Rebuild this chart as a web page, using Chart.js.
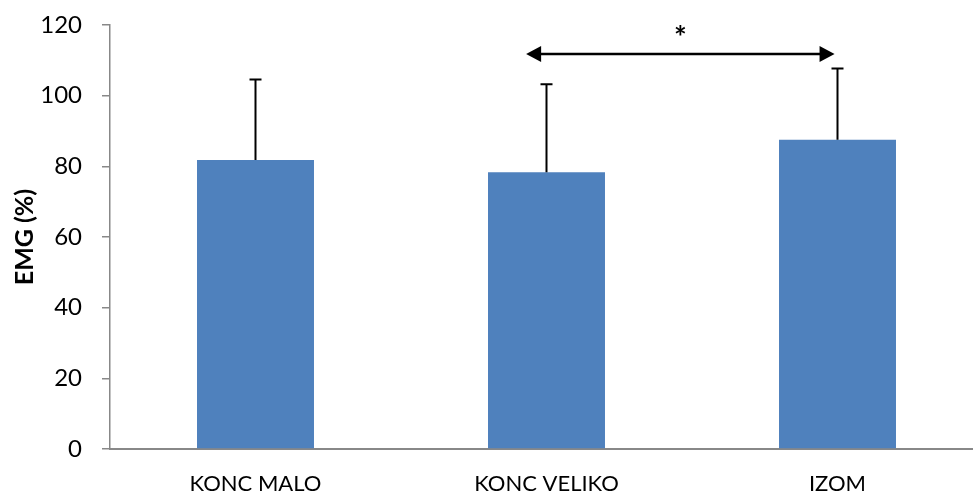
<!DOCTYPE html>
<html>
<head>
<meta charset="utf-8">
<script src="https://cdn.jsdelivr.net/npm/chart.js@4/dist/chart.umd.min.js"></script>
<style>
  html, body { margin: 0; padding: 0; background: #fff; overflow: hidden; }
  #wrap { width: 985px; height: 493px; }
</style>
</head>
<body>
<div id="wrap"><canvas id="chart" width="985" height="493"></canvas></div>
<script>
// Data
const categories = ['KONC MALO', 'KONC VELIKO', 'IZOM'];
const emgMeans = [81.8, 78.3, 87.5];
const emgUpper = [104.6, 103.2, 107.7]; // top of each error bar
const yTicks = [0, 20, 40, 60, 80, 100, 120];

// Significance arrow: from/to positions on the category axis and its level
const sigFrom = 0.93;
const sigTo = 1.99;
const sigLevel = 111.8;
const sigLabel = '*';

const FONT = 'Lato, "Open Sans", sans-serif';

/**
 * Draws upper error bars for the bar dataset
 */
const errorBarPlugin = {
  id: 'errorBars',
  afterDatasetsDraw(chart) {
    const ctx = chart.ctx;
    const meta = chart.getDatasetMeta(0);
    const y = chart.scales.y;
    ctx.save();
    ctx.strokeStyle = '#000';
    ctx.lineWidth = 2;
    meta.data.forEach((bar, i) => {
      const top = y.getPixelForValue(emgUpper[i]);
      ctx.beginPath();
      ctx.moveTo(bar.x, bar.y);
      ctx.lineTo(bar.x, top);
      ctx.moveTo(bar.x - 6, top);
      ctx.lineTo(bar.x + 6, top);
      ctx.stroke();
    });
    ctx.restore();
  }
};

/**
 * Draws the double-headed significance arrow with its asterisk
 */
const sigArrowPlugin = {
  id: 'sigArrow',
  afterDraw(chart) {
    const ctx = chart.ctx;
    const x = chart.scales.x;
    const y = chart.scales.y;
    const x1 = x.getPixelForValue(sigFrom);
    const x2 = x.getPixelForValue(sigTo);
    const yy = y.getPixelForValue(sigLevel);
    const head = 15;
    const half = 8;
    ctx.save();
    ctx.strokeStyle = '#000';
    ctx.fillStyle = '#000';
    ctx.lineWidth = 2.5;
    ctx.beginPath();
    ctx.moveTo(x1 + head - 2, yy);
    ctx.lineTo(x2 - head + 2, yy);
    ctx.stroke();
    ctx.beginPath();
    ctx.moveTo(x1, yy);
    ctx.lineTo(x1 + head, yy - half);
    ctx.lineTo(x1 + head, yy + half);
    ctx.closePath();
    ctx.fill();
    ctx.beginPath();
    ctx.moveTo(x2, yy);
    ctx.lineTo(x2 - head, yy - half);
    ctx.lineTo(x2 - head, yy + half);
    ctx.closePath();
    ctx.fill();
    ctx.font = 'bold 30px ' + FONT;
    ctx.textAlign = 'center';
    ctx.textBaseline = 'middle';
    ctx.fillText(sigLabel, (x1 + x2) / 2, yy - 16);
    ctx.restore();
  }
};

const ctx = document.getElementById('chart').getContext('2d');
new Chart(ctx, {
  type: 'bar',
  data: {
    labels: categories,
    datasets: [{
      label: 'EMG',
      data: emgMeans,
      backgroundColor: '#4F81BD',
      borderWidth: 0,
      categoryPercentage: 1.0,
      barPercentage: 0.402
    }]
  },
  options: {
    responsive: false,
    animation: false,
    layout: {
      padding: { left: 0, right: 2, top: 25, bottom: 0 }
    },
    plugins: {
      legend: { display: false },
      tooltip: { enabled: false }
    },
    scales: {
      x: {
        offset: true,
        afterFit(scale) {
          scale.height = 44;
          scale.paddingLeft = 0;
          scale.paddingRight = 0;
        },
        grid: {
          display: false,
          drawTicks: false
        },
        border: { color: '#888', width: 2 },
        ticks: {
          color: '#000',
          padding: 22,
          font: { family: FONT, size: 22 }
        }
      },
      y: {
        min: 0,
        max: 120,
        afterBuildTicks(scale) {
          scale.ticks = yTicks.map(v => ({ value: v }));
        },
        afterFit(scale) {
          scale.width = 110;
          scale.paddingTop = 0;
          scale.paddingBottom = 0;
        },
        grid: {
          display: true,
          drawOnChartArea: false,
          drawTicks: true,
          tickLength: 8,
          color: '#888',
          lineWidth: 1.5
        },
        border: { color: '#888', width: 1.5 },
        ticks: {
          color: '#000',
          padding: 20,
          font: { family: FONT, size: 24 }
        },
        title: {
          display: true,
          text: 'EMG (%)',
          color: '#000',
          padding: { top: 10, bottom: 0 },
          font: { family: FONT, size: 25, weight: 'bold' }
        }
      }
    }
  },
  plugins: [errorBarPlugin, sigArrowPlugin]
});
</script>
</body>
</html>
